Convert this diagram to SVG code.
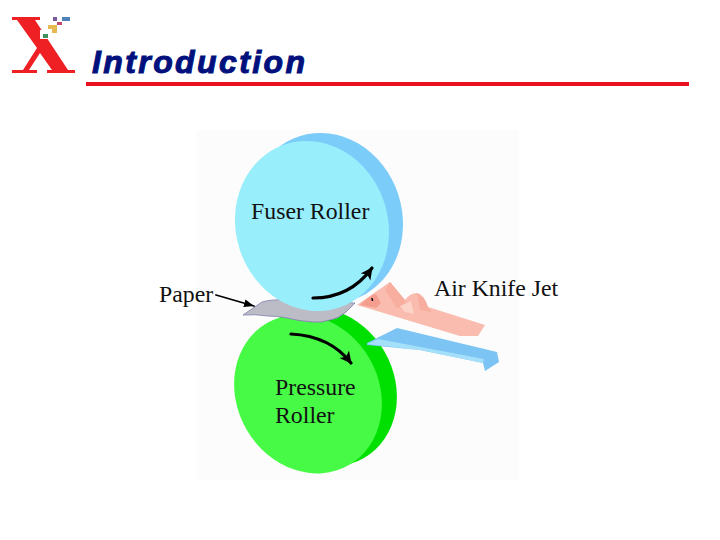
<svg xmlns="http://www.w3.org/2000/svg" width="720" height="540" viewBox="0 0 720 540">
<style>
.lbl{font-family:"Liberation Serif","Times New Roman",serif;font-size:23.800px;fill:#111}
.arr{fill:none;stroke:#000;stroke-linecap:round}
.thick{stroke-width:3.2}
</style>
<defs>
<marker id="h" markerUnits="userSpaceOnUse" markerWidth="14" markerHeight="14" refX="11" refY="6" orient="auto"><path d="M0 0L12 6L0 12L3 6Z" fill="#000"/></marker>
<marker id="hs" markerUnits="userSpaceOnUse" markerWidth="12" markerHeight="10" refX="10" refY="4" orient="auto"><path d="M0 0L10 4L0 8Z" fill="#000"/></marker>
</defs>
<rect width="720" height="540" fill="#fff"/>
<rect x="196" y="130" width="323" height="350" fill="#fbfcfb"/>

<g id="logo">
<path d="M12 17H40V20H35L68 70H75V73H47V70H52L40 53L29 70H37V73H12V70H23L37 48L17 20H12Z" fill="#ee2024"/>
<rect x="40" y="30" width="9" height="9" fill="#fff"/>
<rect x="53" y="17" width="4" height="4" fill="#7a5a9a"/><rect x="62" y="17" width="8" height="4" fill="#4f82b8"/>
<rect x="57" y="22" width="5" height="3" fill="#c0486a"/><rect x="48" y="25" width="9" height="4" fill="#e6b850"/><rect x="52" y="29" width="5" height="4" fill="#e6b850"/>
<rect x="43" y="34" width="5" height="4" fill="#3f8f5f"/>
</g>
<g id="title">
<text x="92" y="73" font-family="'Liberation Sans',Arial,sans-serif" font-size="32" font-weight="700" font-style="italic" fill="#00107c" stroke="#00107c" stroke-width="1" textLength="213" lengthAdjust="spacing">Introduction</text>
<rect x="86" y="82" width="603" height="4" fill="#e8101c"/>
</g>

<g id="pressure-roller">
<ellipse cx="323" cy="387" rx="71" ry="82" fill="#00e000" transform="rotate(-30 323 387)"/>
<ellipse cx="308" cy="394" rx="71" ry="82" fill="#46fa46" transform="rotate(-30 308 394)"/>
</g>
<g id="paper">
<path d="M243 315L262 302Q272 299 287 300L355 303L346 312Q338 319 330 320Q320 323 313 322Q298 321 287 318Q278 316 268 316Q255 314 243 315Z" fill="#bcbcc6" stroke="#7d7db0" stroke-width="0.800"/>
</g>
<g id="fuser-roller">
<ellipse cx="326" cy="218" rx="76" ry="86" fill="#7cccfa" transform="rotate(-18 326 218)"/>
<ellipse cx="312" cy="226" rx="76" ry="86" fill="#99eefc" transform="rotate(-18 312 226)"/>
</g>
<g id="air-knife-jet">
<path d="M357 305L390 282L405 300Q410 293 417 293Q424 295 428 307L485 325L478 336L460 336Z" fill="#f9bcae"/>
<path d="M390 282L405 300L407 306L397 308L385 290Z" fill="#f8ae9f"/>
<path d="M400 306L411 301L414 314L405 312Z" fill="#fcd3c7"/>
<path d="M417 293Q424 295 428 307L432 312L420 310Z" fill="#f8ae9f"/>
<path d="M360 305Q370 295 376 294L381 303L376 308Z" fill="#f59e90"/>
<path d="M372 298L372.500 301" stroke="#000" stroke-width="1.500"/>
</g>
<g id="lower-jet">
<path d="M367 343L397 328L497 352L499 362L485 371L483 363L420 350L367 345Z" fill="#7cc4f4"/>
<path d="M367 344L378 339L484 359L483 363L420 350Z" fill="#a5e0fa"/>
</g>
<g id="connectors">
<path class="arr" d="M216 295L254 306" stroke-width="1.800" marker-end="url(#hs)"/>
<path class="arr thick" d="M313 298Q350 298 372 268" marker-end="url(#h)"/>
<path class="arr thick" d="M291 334Q330 336 351 363" marker-end="url(#h)"/>
</g>
<g id="labels">
<text class="lbl" x="251" y="219">Fuser Roller</text>
<text class="lbl" x="275" y="395">Pressure</text>
<text class="lbl" x="275" y="423">Roller</text>
<text class="lbl" x="159" y="302">Paper</text>
<text class="lbl" x="434" y="296">Air Knife Jet</text>
</g>
</svg>
